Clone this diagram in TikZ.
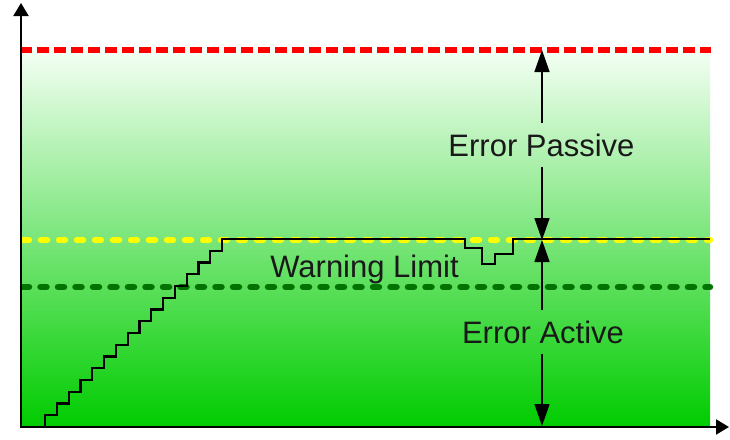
\documentclass[tikz,border=0pt]{standalone}
\usepackage{fontspec}
\setmainfont{Liberation Sans}
\usetikzlibrary{arrows.meta}
\definecolor{gtop}{RGB}{244,255,244}
\definecolor{gbot}{RGB}{0,204,0}
\definecolor{lred}{RGB}{255,0,0}
\definecolor{lyel}{RGB}{255,255,0}
\definecolor{ldgreen}{RGB}{0,115,0}
\begin{document}
\begin{tikzpicture}[x=1pt,y=-1pt,
  axis/.style={draw=black, line width=2pt, -{Triangle[length=13pt,width=15pt]}},
  dimarrow/.style={draw=black, line width=1.5pt, -{Triangle[length=22pt,width=15pt]}},
  redline/.style={draw=lred, line width=5.5pt, dash pattern=on 12pt off 5pt},
  yelline/.style={draw=lyel, line width=6.5pt, line cap=round, dash pattern=on 6pt off 12pt},
  grnline/.style={draw=ldgreen, line width=6.5pt, line cap=round, dash pattern=on 6pt off 11.5pt},
  stair/.style={draw=black, line width=2.2pt},
  lbl/.style={font=\fontsize{31}{31}\selectfont, text=black!90, inner xsep=4pt, inner ysep=10pt, anchor=base}
]
\useasboundingbox (0,0) rectangle (730,439);
% background gradient
\shade[top color=gtop, bottom color=gbot] (21,50) rectangle (710,427);
% limit lines
\draw[redline] (20,50) -- (711,50);
\draw[grnline] (23,287) -- (710,287);
\draw[yelline] (23,240) -- (710,240);
% counter curve
\draw[stair] (45,427) foreach \k in {1,...,16} { -- ++(0,-11.75) -- ++(11.8,0) }
  -- (465,239) -- (465,248) -- (482,248) -- (482,264) -- (495,264) -- (495,254)
  -- (513,254) -- (513,239) -- (710,239);
% axes
\coordinate (O) at (21,427);
\coordinate (ytip) at (21,3);
\coordinate (xtip) at (729,427);
\draw[axis] (O) -- (ytip);
\draw[axis] (20,427) -- (xtip);
% labels
\node[lbl] (ep) at (541.5,156) {Error Passive};
\node[lbl] (ea) at (543,343) {Error Active};
\node[lbl] (wl) at (364.5,277) {Warning Limit};
% dimension arrows
\coordinate (Atop) at (542,50);
\coordinate (Amid) at (542,240);
\coordinate (Abot) at (542,426);
\draw[dimarrow] (ep.north -| Atop) -- (Atop);
\draw[dimarrow] (ep.south -| Atop) -- (Amid);
\draw[dimarrow] (ea.north -| Atop) -- (Amid);
\draw[dimarrow] (ea.south -| Atop) -- (Abot);
\end{tikzpicture}
\end{document}
